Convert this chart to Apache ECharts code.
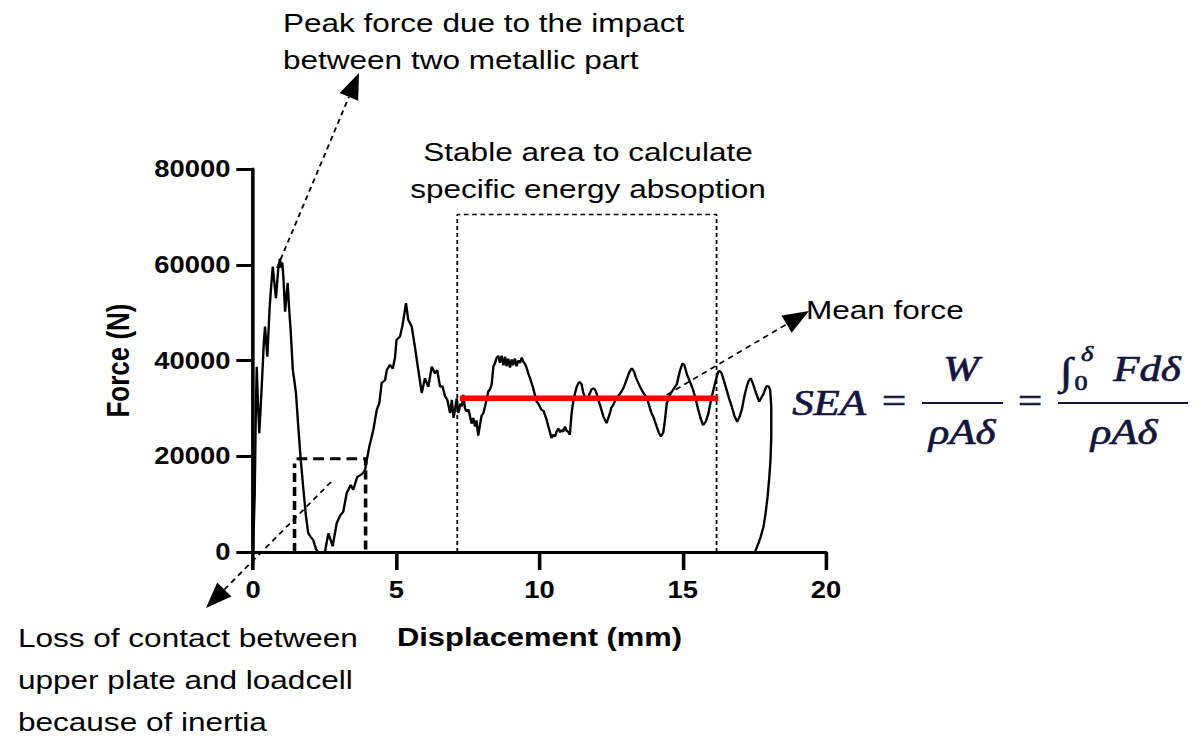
<!DOCTYPE html>
<html><head><meta charset="utf-8">
<script src="https://cdn.jsdelivr.net/npm/echarts@6/dist/echarts.min.js"></script>
<style>
html,body{margin:0;padding:0;background:#fff;overflow:hidden;width:1203px;height:740px;}
#chart{width:1011px;height:740px;transform:scaleX(1.18991);transform-origin:0 0;}
</style></head><body><div id="chart"></div>
<script>
// ---- data (mm, N) ----
const displacement = [0,0.06,0.10,0.13,0.18,0.22,0.30,0.38,0.42,0.50,0.58,0.64,0.69,0.80,0.88,0.94,0.98,1.02,1.06,1.12,1.21,1.26,1.32,1.39,1.45,1.50,1.58,1.66,1.76,1.85,1.93,2.01,2.10,2.20,2.28,2.51,2.63,2.71,2.78,2.92,3.04,3.15,3.27,3.41,3.50,3.64,3.79,3.91,3.97,4.06,4.20,4.32,4.41,4.49,4.61,4.67,4.78,4.88,4.96,5.01,5.13,5.22,5.34,5.42,5.54,5.65,5.77,5.89,6.00,6.12,6.24,6.35,6.43,6.53,6.61,6.70,6.78,6.88,6.94,7.00,7.05,7.11,7.17,7.24,7.29,7.34,7.40,7.46,7.52,7.57,7.63,7.69,7.75,7.80,7.86,7.92,7.98,8.04,8.10,8.21,8.27,8.33,8.39,8.45,8.50,8.56,8.62,8.68,8.74,8.80,8.85,8.91,8.97,9.03,9.08,9.14,9.20,9.26,9.32,9.38,9.43,9.50,9.55,9.61,9.67,9.78,9.90,9.96,10.07,10.14,10.25,10.31,10.42,10.48,10.54,10.60,10.66,10.72,10.77,10.83,10.89,10.95,11.00,11.06,11.12,11.18,11.24,11.30,11.36,11.41,11.47,11.53,11.59,11.65,11.71,11.76,11.82,11.88,11.94,12.00,12.05,12.11,12.17,12.23,12.34,12.40,12.46,12.51,12.57,12.69,12.80,12.86,12.95,13.04,13.13,13.22,13.30,13.36,13.45,13.51,13.62,13.74,13.80,13.91,13.97,14.09,14.16,14.24,14.32,14.38,14.44,14.55,14.62,14.73,14.79,14.90,14.99,15.06,15.14,15.25,15.36,15.45,15.54,15.63,15.71,15.80,15.89,15.98,16.07,16.16,16.24,16.30,16.36,16.45,16.53,16.62,16.71,16.80,16.90,16.98,17.06,17.15,17.23,17.30,17.37,17.45,17.52,17.60,17.67,17.74,17.81,17.87,17.93,18.00,18.05,18.09,18.09,18.06,18.02,17.96,17.89,17.82,17.72,17.64,17.52];
const force = [0,12000,30000,38700,30000,24800,34000,44000,47100,40800,51000,56000,59600,53000,59000,61300,59400,60500,57500,50200,56200,51000,45700,38000,35500,33200,26200,19700,13000,7400,3900,3200,2500,600,0,0,3900,2500,1200,6000,7600,8400,12300,14000,13000,15700,16200,17100,19200,22000,25500,29700,31100,35300,35900,38000,39100,38300,40800,44300,45000,47400,52000,48500,47100,42900,38000,33200,36300,34500,38700,37300,38000,34500,34700,32600,31800,29000,31800,28000,29700,32100,29000,31000,30400,32800,30000,29300,29800,28500,26800,28000,26200,27500,24300,26500,28500,29000,30400,33500,34000,35000,38700,39500,40500,41000,39500,41000,39000,40800,38800,40400,38500,40200,39000,40400,38800,40000,39500,40600,39800,39200,38500,37300,36300,34200,31400,31000,29700,29500,27600,26200,23800,24500,24100,25200,25800,25000,25500,25100,26200,25300,25100,24500,29000,31500,33200,34500,35300,35500,35000,33200,32300,31900,32500,33200,34000,34200,33900,33000,31800,30700,29500,28300,26900,28000,29000,30200,30700,32300,33000,33500,34500,36000,37500,38400,37700,36500,35300,34500,33300,32200,31100,29000,28300,26200,25000,24100,25000,27600,31000,32800,33500,34500,35000,37800,39400,39000,37200,35600,33900,32000,29700,27800,26500,27200,28800,31500,33900,36000,37700,37800,37300,35500,33900,32000,30400,28500,27200,28200,29700,32500,34500,35700,36300,35200,33900,32500,31400,32200,32900,33900,34700,34600,33900,30400,24000,19000,15500,11500,8000,5300,3200,1800,0];
const meanForce = 32100;          // N
const meanRange = [7.22, 16.24];  // mm
const stableRange = [7.13, 16.18];// mm
const stableTop = 70500;          // N
const lossRange = [1.45, 3.93];   // mm
const lossTop = 19500;            // N
const lossLeftTop = 18500;        // N
const xTicks = [0, 5, 10, 15, 20];
const yTicks = [0, 20000, 40000, 60000, 80000];

// ---- build ----
const S = 1203 / 1011;
const gx = xr => xr / S;
const curve = displacement.map((d, i) => [d, force[i]]);
const FONT = 'Liberation Sans, Arial, Helvetica, sans-serif';
const SERIF = 'Liberation Serif, Times New Roman, serif';
const NAVY = '#14143c';

function arrow(x1, y1, x2, y2) {
  const L = 26, W = 20;
  const dx = x2 - x1, dy = y2 - y1, len = Math.hypot(dx, dy);
  const ux = dx / len, uy = dy / len;
  const bx = x2 - ux * L, by = y2 - uy * L;
  const nx = -uy, ny = ux;
  return [
    {type: 'line', silent: true, shape: {x1: gx(x1), y1: y1, x2: gx(bx), y2: by},
     style: {stroke: '#000', lineWidth: 1.6, lineDash: [5, 4]}},
    {type: 'polygon', silent: true, shape: {points: [
      [gx(x2), y2], [gx(bx + nx * W / 2), by + ny * W / 2], [gx(bx - nx * W / 2), by - ny * W / 2]]},
     style: {fill: '#000'}}
  ];
}
function txt(xr, y, s, align, opts) {
  return Object.assign({type: 'text', silent: true, x: gx(xr), y: y,
    style: Object.assign({text: s, fontSize: 26.5, fontFamily: FONT, fill: '#000',
      align: align || 'left', verticalAlign: 'middle'}, (opts || {}))});
}
function mtxt(xr, y, s, size, opts) {
  return txt(xr, y, s, 'center', Object.assign({fontSize: size || 36, fontFamily: SERIF,
    fontStyle: 'italic', fill: NAVY, stroke: NAVY, lineWidth: 0.7}, opts || {}));
}

const graphics = [].concat(
  arrow(277, 268, 359, 73),
  arrow(331, 482, 206, 608),
  arrow(658, 400, 809, 311),
  [
    txt(283, 23, 'Peak force due to the impact'),
    txt(283, 60, 'between two metallic part'),
    txt(588, 152, 'Stable area to calculate', 'center'),
    txt(588, 189, 'specific energy absoption', 'center'),
    txt(806, 310, 'Mean force'),
    txt(18, 638, 'Loss of contact between'),
    txt(18, 680, 'upper plate and loadcell'),
    txt(18, 722, 'because of inertia'),
    // formula
    mtxt(829, 403, 'SEA'),
    mtxt(894, 401, '=', 36, {fontStyle: 'normal'}),
    mtxt(961, 369, 'W'),
    {type: 'line', silent: true, shape: {x1: gx(922), y1: 403, x2: gx(1003), y2: 403}, style: {stroke: NAVY, lineWidth: 2}},
    mtxt(962, 432, 'ρAδ'),
    mtxt(1030, 401, '=', 36, {fontStyle: 'normal'}),
    mtxt(1066, 371, '∫', 38),
    mtxt(1087, 353, 'δ', 22),
    mtxt(1081, 382, '0', 22, {fontStyle: 'normal'}),
    mtxt(1147, 369, 'Fdδ'),
    {type: 'line', silent: true, shape: {x1: gx(1058), y1: 403, x2: gx(1188), y2: 403}, style: {stroke: NAVY, lineWidth: 2}},
    mtxt(1124, 432, 'ρAδ')
  ]
);

const chart = echarts.init(document.getElementById('chart'), null, {renderer: 'svg'});
const axisCommon = {
  type: 'value',
  axisLine: {show: true, onZero: false, lineStyle: {color: '#000', width: 3}},
  axisTick: {show: true, inside: false, lineStyle: {color: '#000', width: 3}},
  splitLine: {show: false},
  axisLabel: {color: '#000', fontSize: 23, fontWeight: 'bold', fontFamily: FONT, showMinLabel: true, showMaxLabel: true,
    formatter: v => String(v)},
  nameLocation: 'middle',
  nameTextStyle: {color: '#000', fontSize: 26, fontWeight: 'bold', fontFamily: FONT}
};
chart.setOption({
  animation: false,
  backgroundColor: '#fff',
  grid: {left: gx(253), right: 1011 - gx(826), top: 169, bottom: 188, containLabel: false, outerBoundsMode: 'none'},
  xAxis: Object.assign({}, axisCommon, {
    min: xTicks[0], max: xTicks[xTicks.length - 1], interval: xTicks[1] - xTicks[0],
    axisTick: Object.assign({}, axisCommon.axisTick, {length: 18}),
    axisLabel: Object.assign({}, axisCommon.axisLabel, {margin: 26}),
    name: 'Displacement (mm)', nameGap: 72
  }),
  yAxis: Object.assign({}, axisCommon, {
    min: yTicks[0], max: yTicks[yTicks.length - 1], interval: yTicks[1] - yTicks[0],
    axisTick: Object.assign({}, axisCommon.axisTick, {length: 14}),
    axisLabel: Object.assign({}, axisCommon.axisLabel, {margin: 19}),
    name: 'Force (N)', nameGap: 100, nameRotate: 90
  }),
  series: [
    {type: 'line', data: curve, showSymbol: false, symbol: 'none', z: 3,
     lineStyle: {color: '#000', width: 2}},
    {type: 'line', showSymbol: false, symbol: 'none', z: 2,
     data: [[stableRange[0], 0], [stableRange[0], stableTop], [stableRange[1], stableTop], [stableRange[1], 0]],
     lineStyle: {color: '#000', width: 1.5, type: [4, 3]}},
    {type: 'line', showSymbol: false, symbol: 'none', z: 2,
     data: [[lossRange[0], 0], [lossRange[0], lossLeftTop]],
     lineStyle: {color: '#000', width: 3, type: [9, 5]}},
    {type: 'line', showSymbol: false, symbol: 'none', z: 2,
     data: [[lossRange[0] + 0.07, lossTop], [lossRange[1], lossTop], [lossRange[1], 0]],
     lineStyle: {color: '#000', width: 3, type: [9, 5]}},
    {type: 'line', showSymbol: false, symbol: 'none', z: 5,
     data: [[meanRange[0], meanForce], [meanRange[1], meanForce]],
     lineStyle: {color: '#ff0000', width: 5.5}}
  ],
  graphic: graphics
});
</script>
</body></html>
